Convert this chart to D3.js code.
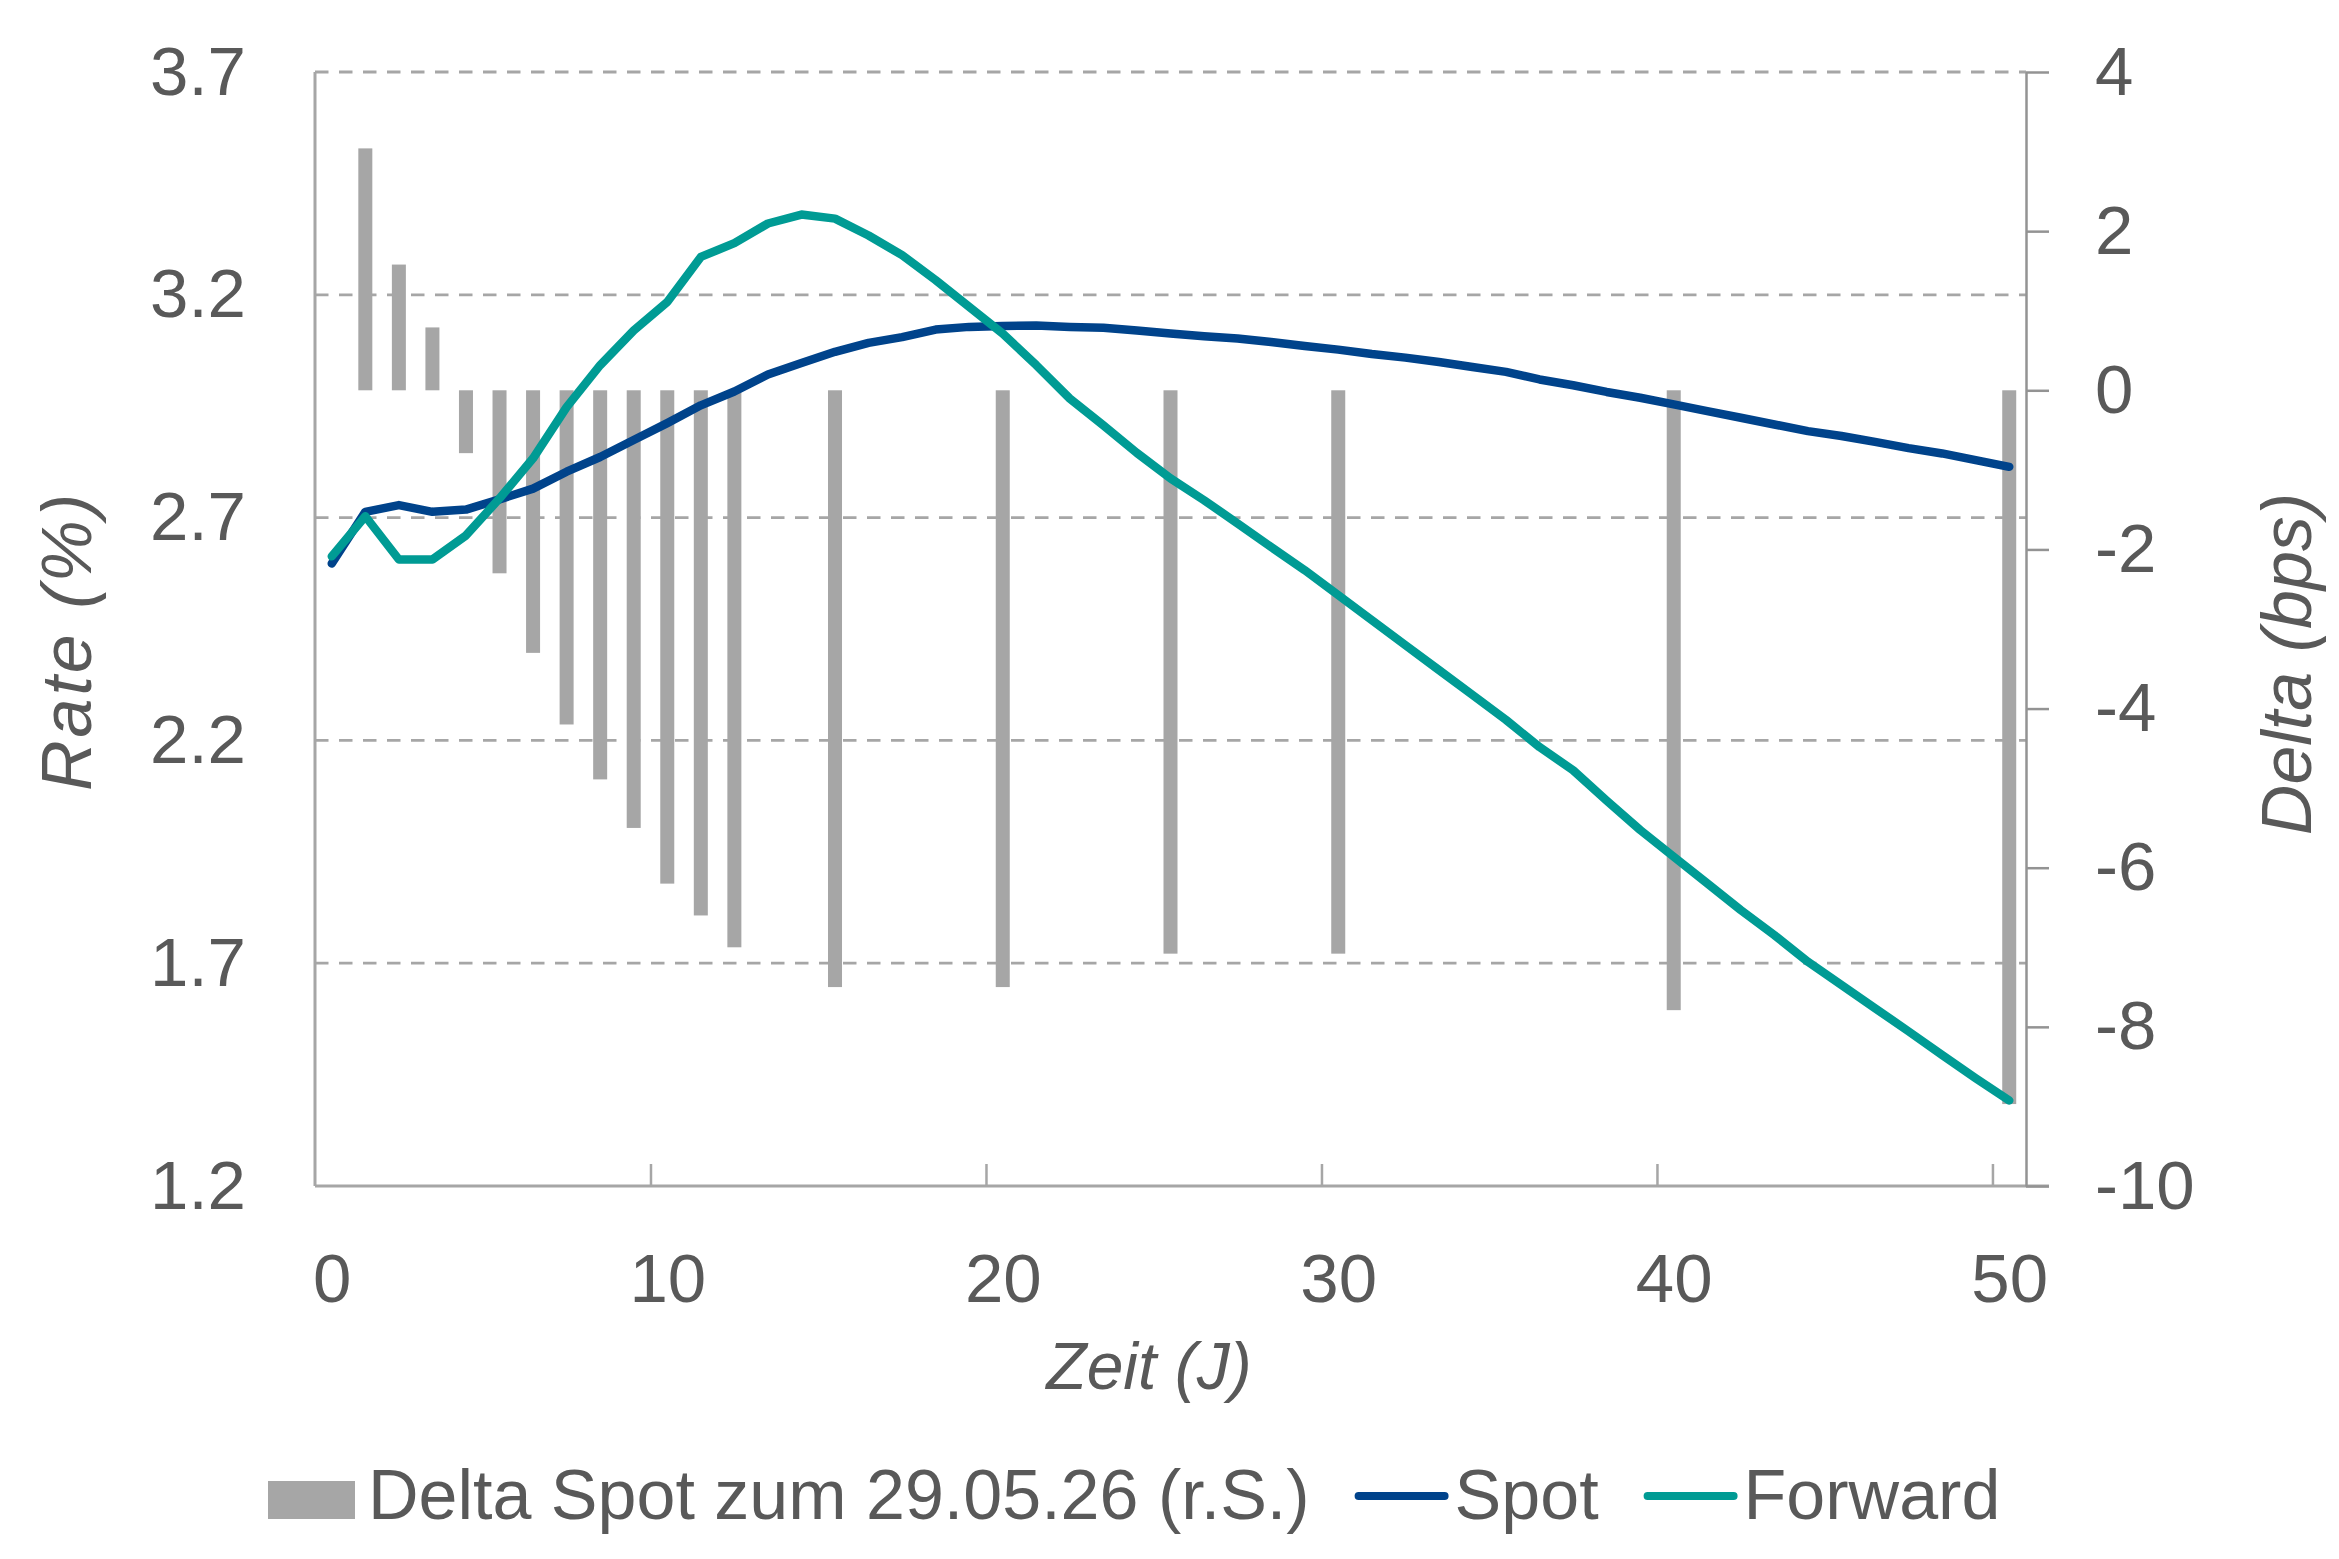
<!DOCTYPE html>
<html>
<head>
<meta charset="utf-8">
<script src="https://cdn.jsdelivr.net/npm/d3@7"></script>
<style>
  body { margin: 0; background: #fff; }
  text { font-family: "Liberation Sans", Arial, sans-serif; }
</style>
</head>
<body>
<script>
// laufzeiten in jahren
var years = [0,1,2,3,4,5,6,7,8,9,10,11,12,13,14,15,16,17,18,19,20,21,22,23,24,25,
             26,27,28,29,30,31,32,33,34,35,36,37,38,39,40,41,42,43,44,45,46,47,48,49,50];

var spot = [2.597,2.713,2.728,2.713,2.718,2.741,2.765,2.803,2.836,2.874,2.912,2.952,2.983,3.021,3.047,
            3.072,3.092,3.105,3.122,3.128,3.130,3.131,3.128,3.126,3.120,3.113,3.107,3.102,3.094,3.085,
            3.077,3.067,3.059,3.049,3.038,3.027,3.010,2.997,2.982,2.969,2.954,2.939,2.924,2.909,2.894,
            2.883,2.870,2.856,2.844,2.829,2.814];

var forward = [2.613,2.703,2.606,2.606,2.660,2.743,2.833,2.948,3.042,3.120,3.184,3.285,3.316,3.360,3.380,
               3.371,3.333,3.289,3.233,3.173,3.113,3.042,2.967,2.907,2.845,2.788,2.739,2.687,2.634,2.582,
               2.526,2.470,2.414,2.358,2.302,2.246,2.185,2.133,2.065,1.999,1.939,1.879,1.819,1.763,1.703,
               1.651,1.599,1.547,1.494,1.442,1.392];

var barYears  = [1,2,3,4,5,6,7,8,9,10,11,12,15,20,25,30,40,50];
var deltaSpot = [3.04,1.58,0.79,-0.79,-2.30,-3.30,-4.20,-4.89,-5.50,-6.20,-6.60,-7.00,-7.50,-7.50,-7.08,-7.08,-7.79,-8.97];

var rateTicks  = [1.2,1.7,2.2,2.7,3.2,3.7];
var deltaTicks = [-10,-8,-6,-4,-2,0,2,4];
var yearTicks  = [0,10,20,30,40,50];

var width  = 2339,
    height = 1559,
    margin = {top: 72, right: 313, bottom: 373, left: 315};

var w = width - margin.left - margin.right,
    h = height - margin.top - margin.bottom;

var textColor = "#595959",
    gridColor = "#a6a6a6",
    spotColor = "#00438b",
    fwdColor  = "#009b94",
    fs = 69;

var svg = d3.select("body").append("svg")
    .attr("width", width)
    .attr("height", height);

var g = svg.append("g")
    .attr("transform", "translate(" + margin.left + "," + margin.top + ")");

var x  = d3.scaleLinear().domain([-0.5, 50.5]).range([0, w]);
var yL = d3.scaleLinear().domain([1.2, 3.7]).range([h, 0]);
var yR = d3.scaleLinear().domain([-10, 4]).range([h, 0]);

// gridlines (dashed)
g.append("g").selectAll("line")
    .data(rateTicks.slice(1))
    .join("line")
    .attr("x1", 0).attr("x2", w)
    .attr("y1", function(d){ return yL(d); })
    .attr("y2", function(d){ return yL(d); })
    .style("stroke", gridColor)
    .style("stroke-width", 2.8)
    .style("stroke-dasharray", "13.5,10.5");

// bars on the right axis
var barW = 14;
g.append("g").selectAll("rect")
    .data(barYears)
    .join("rect")
    .attr("x", function(d){ return x(d) - barW/2; })
    .attr("y", function(d, i){ return yR(Math.max(0, deltaSpot[i])); })
    .attr("width", barW)
    .attr("height", function(d, i){ return Math.abs(yR(deltaSpot[i]) - yR(0)); })
    .style("fill", gridColor);

// lines
var line = d3.line()
    .x(function(d, i){ return x(years[i]); })
    .y(function(d){ return yL(d); });

[[spot, spotColor], [forward, fwdColor]].forEach(function(s){
    g.append("path")
        .datum(s[0])
        .attr("d", line)
        .style("fill", "none")
        .style("stroke", s[1])
        .style("stroke-width", 8.5)
        .style("stroke-linejoin", "round")
        .style("stroke-linecap", "round");
});

// left axis
var left = g.append("g")
    .call(d3.axisLeft(yL).tickValues(rateTicks).tickFormat(d3.format(".1f")).tickSize(0).tickPadding(69));
left.select(".domain").remove();
left.selectAll("text").style("font-size", fs + "px").style("fill", textColor)
    .style("font-family", "Liberation Sans, Arial, sans-serif");

g.append("line")
    .attr("x1", 0).attr("x2", 0).attr("y1", 0).attr("y2", h)
    .style("stroke", gridColor).style("stroke-width", 3);

// bottom axis
g.append("line")
    .attr("x1", 0).attr("x2", w + 23).attr("y1", h).attr("y2", h)
    .style("stroke", gridColor).style("stroke-width", 3);

var bticks = g.append("g")
    .attr("transform", "translate(0," + h + ")")
    .call(d3.axisBottom(x).tickValues(yearTicks.slice(1).map(function(d){ return d - 0.5; }))
        .tickSize(-22).tickFormat(""));
bticks.select(".domain").remove();
bticks.selectAll("line").style("stroke", gridColor).style("stroke-width", 2.5);

var bottom = g.append("g")
    .attr("transform", "translate(0," + h + ")")
    .call(d3.axisBottom(x).tickValues(yearTicks).tickSize(0).tickPadding(67));
bottom.select(".domain").remove();
bottom.selectAll("text").style("font-size", fs + "px").style("fill", textColor)
    .style("font-family", "Liberation Sans, Arial, sans-serif");

// right axis
var right = g.append("g")
    .attr("transform", "translate(" + w + ",0)")
    .call(d3.axisRight(yR).tickValues(deltaTicks)
        .tickFormat(function(d){ return String(d); })
        .tickSize(23).tickSizeOuter(0).tickPadding(46));
right.select(".domain").style("stroke", "#939393").style("stroke-width", 2.5);
right.selectAll("line").style("stroke", "#939393").style("stroke-width", 2.5);
right.selectAll("text").style("font-size", fs + "px").style("fill", textColor)
    .style("font-family", "Liberation Sans, Arial, sans-serif");

// axis titles
svg.append("text")
    .attr("transform", "translate(66,641) rotate(-90)")
    .attr("dy", "0.35em")
    .style("text-anchor", "middle")
    .style("font-style", "italic")
    .style("font-size", "70px")
    .style("letter-spacing", "3px")
    .style("fill", textColor)
    .text("Rate (%)");

svg.append("text")
    .attr("transform", "translate(2286,664) rotate(-90)")
    .attr("dy", "0.35em")
    .style("text-anchor", "middle")
    .style("font-style", "italic")
    .style("font-size", "70px")
    .style("fill", textColor)
    .text("Delta (bps)");

svg.append("text")
    .attr("x", 1149)
    .attr("y", 1389)
    .style("text-anchor", "middle")
    .style("font-style", "italic")
    .style("font-size", "66px")
    .style("fill", textColor)
    .text("Zeit (J)");

// legend
var legendItems = [
    {label: "Delta Spot zum 29.05.26 (r.S.)", color: gridColor, kind: "rect"},
    {label: "Spot", color: spotColor, kind: "line"},
    {label: "Forward", color: fwdColor, kind: "line"}
];

var legend = svg.append("g").attr("transform", "translate(0,1519)");
var lx = 268;
legendItems.forEach(function(it, i){
    if (it.kind == "rect") {
        legend.append("rect")
            .attr("x", lx).attr("y", -38)
            .attr("width", 87).attr("height", 38)
            .style("fill", it.color);
        lx += 87 + 13;
    } else {
        legend.append("line")
            .attr("x1", lx + 4).attr("x2", lx + 90)
            .attr("y1", -23).attr("y2", -23)
            .style("stroke", it.color)
            .style("stroke-width", 8)
            .style("stroke-linecap", "round");
        lx += 94 + 6;
    }
    var t = legend.append("text")
        .attr("x", lx)
        .attr("y", 0)
        .style("font-size", "70px")
        .style("fill", textColor)
        .text(it.label);
    lx += t.node().getComputedTextLength() + 45;
});
</script>
</body>
</html>
